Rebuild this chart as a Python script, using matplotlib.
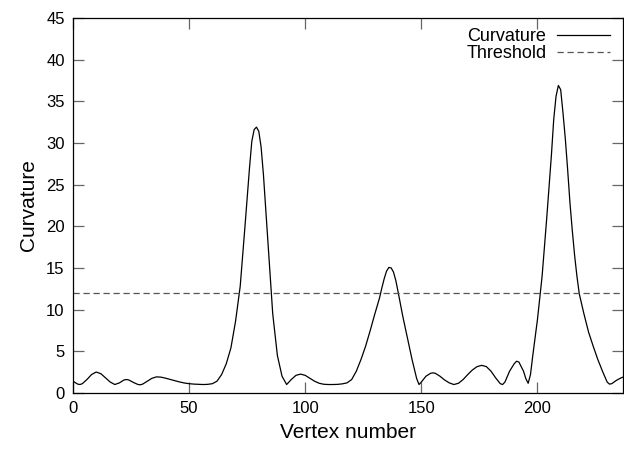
import numpy as np
import matplotlib.pyplot as plt

plt.rcParams['font.family'] = ['Liberation Sans', 'DejaVu Sans']

# curvature per vertex
vertex = [0, 2, 3, 4, 6, 8, 10, 12, 14, 16, 18, 20, 22, 23, 24, 26, 28, 29, 30,
          32, 34, 36, 38, 40, 42, 44, 46, 48, 50, 52, 54, 56, 58, 60, 62, 64,
          66, 68, 70, 72, 74, 76, 77, 78, 79, 80, 81, 82, 84, 86, 88, 90, 92,
          94, 96, 98, 100, 102, 104, 106, 108, 110, 112, 114, 116, 118, 120,
          122, 124, 126, 128, 130, 132, 133, 134, 135, 136, 137, 138, 139, 140,
          142, 144, 146, 148, 149, 150, 152, 154, 155, 156, 158, 160, 162, 164,
          166, 168, 170, 172, 174, 176, 178, 180, 182, 184, 185, 186, 188, 190,
          191, 192, 194, 195, 196, 197, 198, 199, 200, 202, 204, 206, 207, 208,
          209, 210, 211, 212, 213, 214, 215, 216, 217, 218, 220, 222, 224, 226,
          228, 230, 231, 232, 234, 236, 237]
curvature = [1.4, 1.05, 1.0, 1.1, 1.6, 2.2, 2.5, 2.3, 1.8, 1.3, 1.0, 1.2, 1.55,
             1.6, 1.55, 1.25, 1.0, 0.97, 1.05, 1.4, 1.75, 1.92, 1.88, 1.75, 1.6,
             1.45, 1.3, 1.18, 1.1, 1.05, 1.02, 1.0, 1.02, 1.1, 1.4, 2.2, 3.5,
             5.4, 8.6, 12.8, 19.8, 27.0, 30.2, 31.6, 31.9, 31.4, 29.5, 26.2,
             17.8, 9.5, 4.5, 2.0, 1.0, 1.6, 2.1, 2.25, 2.1, 1.75, 1.4, 1.15,
             1.03, 1.0, 1.0, 1.02, 1.08, 1.2, 1.6, 2.6, 4.0, 5.6, 7.5, 9.5,
             11.4, 12.6, 13.7, 14.6, 15.05, 15.0, 14.5, 13.5, 12.1, 9.2, 6.6,
             4.0, 1.7, 1.0, 1.3, 2.0, 2.35, 2.4, 2.35, 2.0, 1.55, 1.2, 1.0,
             1.15, 1.6, 2.2, 2.75, 3.15, 3.3, 3.15, 2.6, 1.8, 1.1, 1.0, 1.3,
             2.6, 3.5, 3.8, 3.7, 2.6, 1.7, 1.15, 2.2, 4.5, 6.6, 8.8, 14.0, 21.0,
             28.5, 32.8, 35.6, 36.9, 36.4, 33.6, 30.5, 26.8, 22.8, 19.5, 16.5,
             14.0, 11.9, 9.5, 7.3, 5.6, 4.0, 2.6, 1.3, 1.05, 1.1, 1.5, 1.8, 1.9]
threshold = 12
x_ticks = [0, 50, 100, 150, 200]
y_ticks = [0, 5, 10, 15, 20, 25, 30, 35, 40, 45]

fig = plt.figure(figsize=(6.24, 4.5), dpi=100)
ax = fig.add_axes([0.117, 0.127, 0.882, 0.833])

ax.plot(vertex, curvature, color='black', linewidth=0.9, label='Curvature')
ax.axhline(threshold, color='#555555', linewidth=0.9, linestyle=(0, (5, 3)),
           label='Threshold')

ax.set_xlim(0, 237)
ax.set_ylim(0, 45)
ax.set_xticks(x_ticks)
ax.set_yticks(y_ticks)
ax.tick_params(direction='in', length=8, width=0.9, color='#666666',
               top=True, right=True, labelsize=12, pad=6)
for s in ax.spines.values():
    s.set_linewidth(0.9)

ax.set_xlabel('Vertex number', fontsize=15, labelpad=5)
ax.set_ylabel('Curvature', fontsize=15, labelpad=6)

ax.legend(loc='upper right', bbox_to_anchor=(0.993, 1.0), frameon=False,
          markerfirst=False, fontsize=13, handlelength=2.9,
          handletextpad=0.6, labelspacing=0.0, borderaxespad=0.15)

plt.savefig('out.png', dpi=100)
